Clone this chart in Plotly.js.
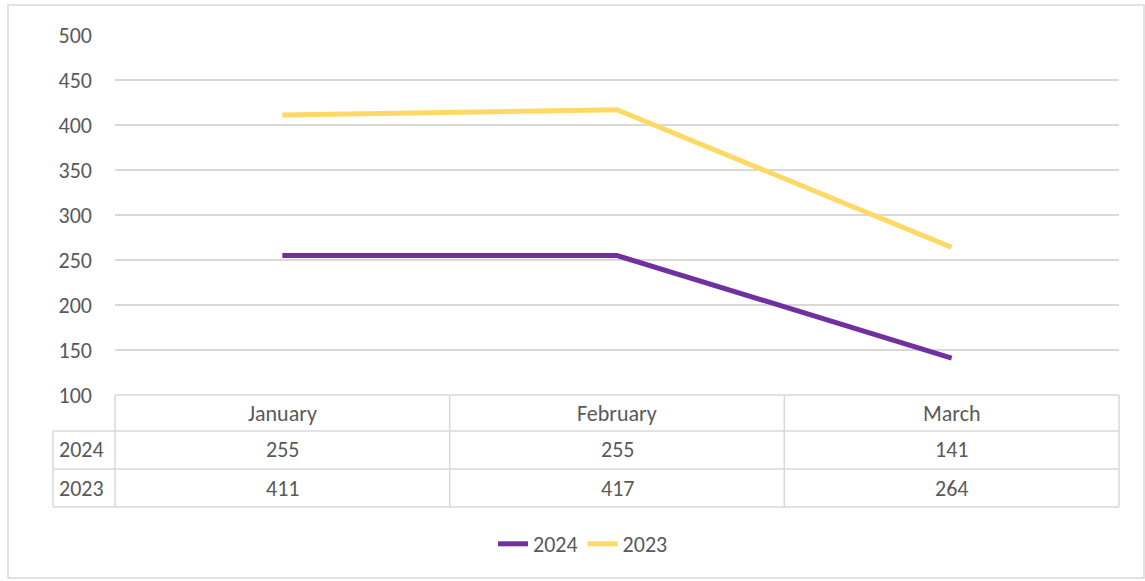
<!DOCTYPE html>
<html>
<head>
<meta charset="utf-8">
<script src="https://cdn.plot.ly/plotly-3.0.1.min.js"></script>
<style>html,body{margin:0;padding:0;background:#fff;}#chart{width:1145px;height:581px;}</style>
</head>
<body>
<div id="chart"></div>
<script>
const categories = ["January", "February", "March"];
const seriesNames = ["2024", "2023"];
const values2024 = [255, 255, 141];
const values2023 = [411, 417, 264];
const yTicks = [100, 150, 200, 250, 300, 350, 400, 450, 500];

const colors = {"2024": "#7030A0", "2023": "#FFD966"};
const seriesValues = {"2024": values2024, "2023": values2023};
const FONT = "Carlito, Calibri, Lato, 'Liberation Sans', sans-serif";
const FS = 22;
const TXT = "#595959";
const GRID = "#D9D9D9";

const W = 1145, H = 581;
const mL = 115, mR = 26, mT = 35, mB = 186;
const pw = W - mL - mR, ph = H - mT - mB;
const px = x => (x - mL) / pw;          // pixel x -> paper
const py = y => (H - mB - y) / ph;      // pixel y -> paper

const traces = seriesNames.map(n => ({
  type: "scatter", mode: "lines", name: n,
  x: categories, y: seriesValues[n],
  line: {color: colors[n], width: 5},
  hoverinfo: "x+y+name"
}));

// table geometry (pixels)
const rowTop = 395, rowH1 = 431, rowH2 = 469, rowH3 = 507, labelLeft = 53;
const shapes = [];
const line = (o) => Object.assign({type: "line", line: {color: GRID, width: 1.5}, layer: "above"}, o);
// outer chart border
shapes.push({type: "rect", xref: "paper", yref: "paper", x0: px(8), x1: px(1144), y0: py(5), y1: py(578), line: {color: GRID, width: 1.5}});
// horizontal table lines
shapes.push(line({xref: "paper", yref: "paper", x0: 0, x1: 1, y0: py(rowTop), y1: py(rowTop)}));
[rowH1, rowH2, rowH3].forEach(y => shapes.push(line({xref: "paper", yref: "paper", x0: px(labelLeft), x1: 1, y0: py(y), y1: py(y)})));
// vertical table lines
shapes.push(line({xref: "paper", yref: "paper", x0: px(labelLeft), x1: px(labelLeft), y0: py(rowH1), y1: py(rowH3)}));
shapes.push(line({xref: "paper", yref: "paper", x0: 0, x1: 0, y0: py(rowTop), y1: py(rowH3)}));
shapes.push(line({xref: "paper", yref: "paper", x0: 1, x1: 1, y0: py(rowTop), y1: py(rowH3)}));
for (let i = 0; i < categories.length - 1; i++) {
  shapes.push(line({xref: "x", yref: "paper", x0: i + 0.5, x1: i + 0.5, y0: py(rowTop), y1: py(rowH3)}));
}

const annotations = [];
const rowCenters = [(rowTop + rowH1) / 2, (rowH1 + rowH2) / 2, (rowH2 + rowH3) / 2];
categories.forEach((c, i) => {
  annotations.push({xref: "x", yref: "paper", x: c, y: py(rowCenters[0]), text: c, showarrow: false,
    font: {family: FONT, size: FS, color: TXT}, xanchor: "center", yanchor: "middle"});
});
seriesNames.forEach((n, r) => {
  annotations.push({xref: "paper", yref: "paper", x: px(labelLeft + 4), y: py(rowCenters[r + 1]), text: n, showarrow: false,
    font: {family: FONT, size: FS, color: TXT}, xanchor: "left", yanchor: "middle"});
  seriesValues[n].forEach((v, i) => {
    annotations.push({xref: "x", yref: "paper", x: categories[i], y: py(rowCenters[r + 1]), text: String(v), showarrow: false,
      font: {family: FONT, size: FS, color: TXT}, xanchor: "center", yanchor: "middle"});
  });
});

const layout = {
  width: W, height: H,
  margin: {l: mL, r: mR, t: mT, b: mB},
  paper_bgcolor: "#fff", plot_bgcolor: "#fff",
  font: {family: FONT, size: FS, color: TXT},
  showlegend: true,
  legend: {orientation: "h", x: px(583), xanchor: "center", y: py(544), yanchor: "middle",
    font: {family: FONT, size: FS, color: TXT}, traceorder: "normal"},
  xaxis: {type: "category", range: [-0.5, categories.length - 0.5], showticklabels: false,
    showgrid: false, zeroline: false, showline: false, ticks: "", fixedrange: true},
  yaxis: {range: [yTicks[0], yTicks[yTicks.length - 1]], tickvals: yTicks, ticktext: yTicks.map(String),
    showgrid: true, gridcolor: GRID, gridwidth: 1.5, zeroline: false, showline: false, ticks: "",
    ticklabelstandoff: 22, tickfont: {family: FONT, size: FS, color: TXT}, fixedrange: true},
  shapes: shapes,
  annotations: annotations
};

Plotly.newPlot("chart", traces, layout, {displayModeBar: false, responsive: false});
</script>
</body>
</html>
